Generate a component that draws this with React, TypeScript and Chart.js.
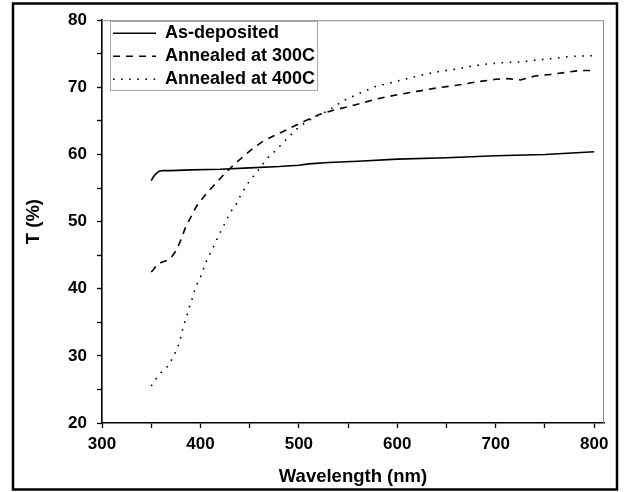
import React, { useEffect, useRef } from "react";
import { Chart, registerables } from "chart.js";

Chart.register(...registerables);

const seriesNames = ["As-deposited", "Annealed at 300C", "Annealed at 400C"];

const asDepWl = [350, 352, 354, 356, 358, 362, 370, 390, 420, 450, 480, 500, 510, 530, 560, 600, 650, 700, 750, 800];
const asDepT = [56.1, 56.6, 57.0, 57.3, 57.5, 57.6, 57.6, 57.7, 57.8, 58.0, 58.2, 58.4, 58.6, 58.8, 59.0, 59.3, 59.5, 59.8, 60.0, 60.4];

const a300Wl = [350, 352, 356, 360, 366, 370, 375, 380, 385, 390, 396, 405, 415, 425, 435, 445, 455, 465, 478, 492, 505, 520, 535, 550, 565, 580, 600, 620, 640, 660, 680, 700, 712, 725, 740, 755, 770, 785, 795, 800];
const a300T = [42.5, 42.8, 43.6, 43.9, 44.2, 44.6, 45.6, 47.2, 49.2, 50.6, 52.3, 54.0, 55.6, 57.2, 58.6, 59.9, 61.1, 62.1, 63.0, 64.0, 64.9, 65.9, 66.6, 67.1, 67.7, 68.3, 68.9, 69.4, 69.9, 70.3, 70.8, 71.2, 71.3, 71.1, 71.7, 71.9, 72.2, 72.5, 72.5, 72.3];

const a400Wl = [350, 355, 361, 368, 372, 376, 379, 381, 383, 386, 388, 391, 393, 396, 400, 403, 406, 410, 414, 418, 422, 426, 430, 436, 440, 445, 450, 457, 462, 469, 476, 483, 489, 498, 506, 515, 528, 537, 545, 560, 577, 594, 610, 627, 644, 660, 677, 693, 710, 727, 743, 759, 776, 793, 800];
const a400T = [25.5, 26.6, 27.7, 28.6, 29.8, 30.9, 32.2, 33.4, 34.6, 35.8, 37.0, 38.2, 39.3, 40.5, 41.7, 42.9, 44.1, 45.3, 46.5, 47.8, 48.9, 50.1, 51.3, 52.5, 53.7, 54.9, 56.1, 57.3, 58.3, 59.6, 60.5, 61.6, 62.5, 63.8, 64.7, 65.5, 66.4, 67.2, 68.0, 69.0, 70.1, 70.7, 71.3, 71.9, 72.4, 72.7, 73.2, 73.5, 73.7, 73.8, 74.1, 74.3, 74.6, 74.7, 74.7];

const xMin = 300;
const xMax = 810;
const xStep = 50;
const xLabelEvery = 100;
const yMin = 20;
const yMax = 80;
const yStep = 5;
const yLabelEvery = 10;

const xTitle = "Wavelength (nm)";
const yTitle = "T (%)";

const toPoints = (xs: number[], ys: number[]) => xs.map((x, i) => ({ x, y: ys[i] }));

const FONT = "'Liberation Sans', Arial, sans-serif";

const framePlugin = {
  id: "frameAndBox",
  afterLayout(chart: any) {
    const lg = chart.legend;
    if (lg) {
      const ca = chart.chartArea;
      lg.left = ca.left + 6;
      lg.right = lg.left + lg.width;
      lg.top = ca.top - 1;
      lg.bottom = lg.top + lg.height;
    }
  },
  beforeDatasetsDraw(chart: any) {
    const { ctx, chartArea } = chart;
    ctx.save();
    ctx.strokeStyle = "#8a8a8a";
    ctx.lineWidth = 1;
    ctx.beginPath();
    ctx.moveTo(chartArea.left, chartArea.top + 0.5);
    ctx.lineTo(chartArea.right - 0.5, chartArea.top + 0.5);
    ctx.lineTo(chartArea.right - 0.5, chartArea.bottom);
    ctx.stroke();
    ctx.restore();
  },
  afterDraw(chart: any) {
    const { ctx } = chart;
    ctx.save();
    ctx.strokeStyle = "#000";
    ctx.lineWidth = 2.5;
    ctx.strokeRect(13, 3.5, 604, 486);
    const lg = chart.legend;
    if (lg && lg.legendHitBoxes && lg.legendHitBoxes.length) {
      const hb = lg.legendHitBoxes;
      let l = Infinity, t = Infinity, r = -Infinity, b = -Infinity;
      for (const h of hb) {
        l = Math.min(l, h.left);
        t = Math.min(t, h.top);
        r = Math.max(r, h.left + h.width);
        b = Math.max(b, h.top + h.height);
      }
      ctx.strokeStyle = "#aaaaaa";
      ctx.lineWidth = 1;
      ctx.strokeRect(Math.round(l - 3) + 0.5, Math.round(t - 3) + 0.5, Math.round(r - l + 5), Math.round(b - t + 5));
    }
    ctx.restore();
  },
};

export default function App() {
  const ref = useRef<HTMLCanvasElement | null>(null);

  useEffect(() => {
    if (!ref.current) return;
    const common = {
      borderColor: "#000",
      backgroundColor: "#000",
      borderWidth: 1.6,
      pointRadius: 0,
      pointHoverRadius: 0,
      tension: 0,
      fill: false,
    };
    const baseGen = (Chart as any).defaults.plugins.legend.labels.generateLabels;
    const chart = new Chart(ref.current, {
      type: "line",
      data: {
        datasets: [
          { ...common, label: seriesNames[0], data: toPoints(asDepWl, asDepT) },
          { ...common, label: seriesNames[1], data: toPoints(a300Wl, a300T), borderDash: [7, 6] },
          { ...common, label: seriesNames[2], data: toPoints(a400Wl, a400T), borderDash: [1.6, 6.5] },
        ],
      },
      options: {
        animation: false,
        responsive: false,
        devicePixelRatio: 1,
        events: [],
        layout: { padding: { top: 19, right: 21, left: 0, bottom: 0 } },
        plugins: {
          tooltip: { enabled: false },
          legend: {
            position: "chartArea",
            align: "start",
            labels: {
              usePointStyle: true,
              pointStyle: "line",
              pointStyleWidth: 43,
              boxWidth: 43,
              padding: 5,
              color: "#000",
              font: { family: FONT, size: 18, weight: "bold" },
              generateLabels: (c: any) =>
                baseGen(c).map((item: any) => {
                  const ds = c.data.datasets[item.datasetIndex];
                  return {
                    ...item,
                    lineDash: ds.borderDash || [],
                    lineWidth: 1.4,
                    strokeStyle: "#000",
                    fillStyle: "#000",
                  };
                }),
            },
          },
        },
        scales: {
          x: {
            type: "linear",
            min: xMin,
            max: xMax,
            afterFit: (s: any) => {
              s.height = 69;
            },
            ticks: {
              stepSize: xStep,
              includeBounds: false,
              autoSkip: false,
              maxRotation: 0,
              padding: 6,
              color: "#000",
              font: { family: FONT, size: 17, weight: "bold" },
              callback: (v: any) => (Number(v) % xLabelEvery === 0 ? String(v) : ""),
            },
            grid: { drawOnChartArea: false, drawTicks: true, tickLength: 5, color: "#000", tickWidth: 1.3 },
            border: { display: true, color: "#000", width: 1.6 },
            title: {
              display: true,
              text: xTitle,
              color: "#000",
              padding: { top: 0, bottom: 4 },
              font: { family: FONT, size: 18.5, weight: "bold" },
            },
          },
          y: {
            type: "linear",
            min: yMin,
            max: yMax,
            afterFit: (s: any) => {
              s.width = 102;
            },
            ticks: {
              stepSize: yStep,
              includeBounds: false,
              autoSkip: false,
              padding: 10,
              color: "#000",
              font: { family: FONT, size: 17, weight: "bold" },
              callback: (v: any) => (Number(v) % yLabelEvery === 0 ? String(v) : ""),
            },
            grid: { drawOnChartArea: false, drawTicks: true, tickLength: 5, color: "#000", tickWidth: 1.3 },
            border: { display: true, color: "#000", width: 1.6 },
            title: {
              display: true,
              text: yTitle,
              color: "#000",
              padding: { top: 23, bottom: 0 },
              font: { family: FONT, size: 18.5, weight: "bold" },
            },
          },
        },
      },
      plugins: [framePlugin],
    } as any);
    return () => chart.destroy();
  }, []);

  return (
    <div style={{ position: "absolute", left: 0, top: 0, width: 625, height: 492, background: "#fff" }}>
      <canvas ref={ref} width={625} height={492} style={{ display: "block", width: 625, height: 492 }} />
    </div>
  );
}
